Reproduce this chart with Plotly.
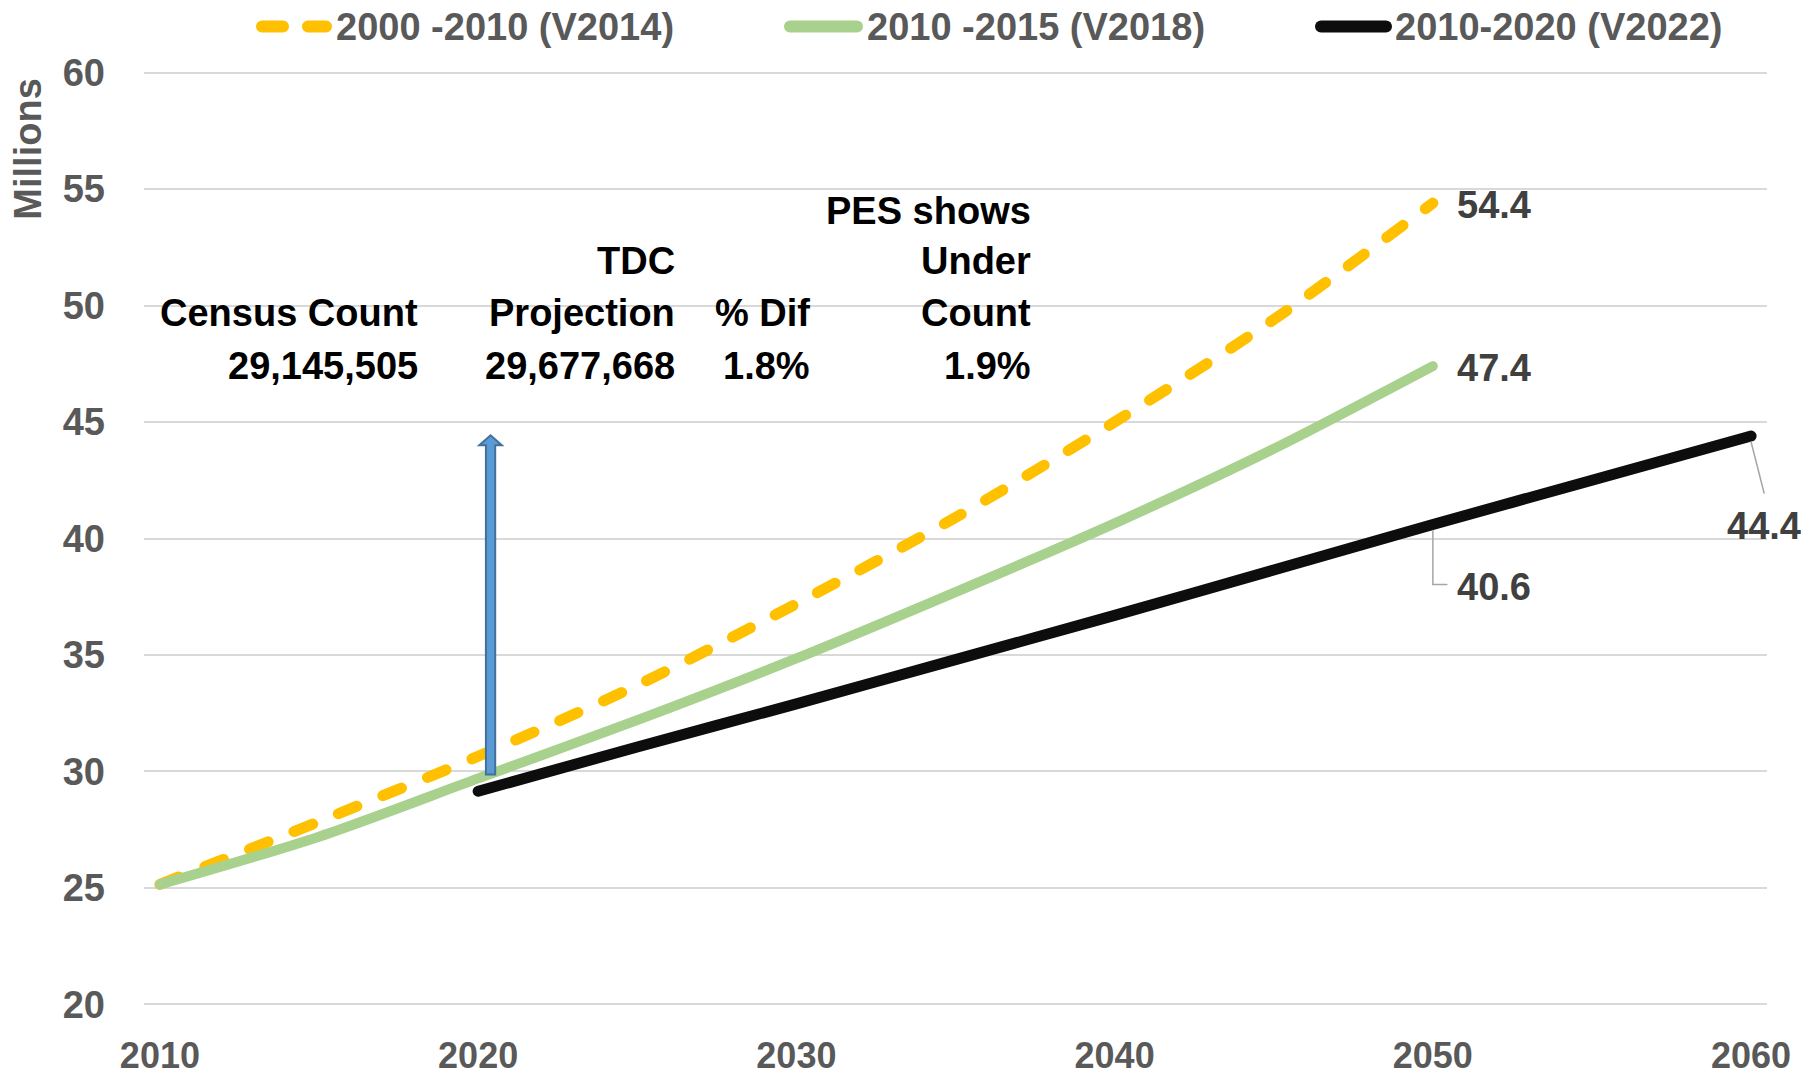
import plotly.graph_objects as go

# ---------------- data ----------------
years_v2014 = [2010, 2015, 2020, 2025, 2030, 2035, 2040, 2045, 2050]
pop_v2014 = [25.15, 27.85, 30.65, 33.7, 37.2, 40.9, 45.0, 49.4, 54.4]

years_v2018 = [2010, 2015, 2020, 2025, 2030, 2035, 2040, 2045, 2050]
pop_v2018 = [25.15, 27.2, 29.7, 32.2, 34.85, 37.7, 40.65, 43.85, 47.4]

years_v2022 = [2020, 2025, 2030, 2035, 2040, 2045, 2050, 2055, 2060]
pop_v2022 = [29.15, 31.05, 32.9, 34.8, 36.7, 38.65, 40.6, 42.5, 44.4]

series_names = ["2000 -2010 (V2014)", "2010 -2015 (V2018)", "2010-2020 (V2022)"]
series_colors = ["#FFC000", "#A9D18E", "#0D0D0D"]

x_ticks = [2010, 2020, 2030, 2040, 2050, 2060]
y_ticks = [20, 25, 30, 35, 40, 45, 50, 55, 60]

# table annotation (columns: lines of text, right aligned)
table_columns = [
    ["", "", "Census Count", "29,145,505"],
    ["", "TDC", "Projection", "29,677,668"],
    ["", "", "% Dif", "1.8%"],
    ["PES shows", "Under", "Count", "1.9%"],
]
table_col_right = [420, 677, 812, 1033]   # pixel x of right edges (figure coords)
table_row_y = [211, 261, 313, 366]        # pixel y of row centres (figure coords)

# TDC arrow (year, from value, to value)
arrow_year = 2020.39
arrow_from = 29.87
arrow_to = 44.43

FONT = "Liberation Sans, Arial, sans-serif"
FS = 38
W, H = 1809, 1079
Y_RANGE = [19.8, 60.2]
M_L, M_R, M_T, M_B = 144, 42, 68.4, 70.4
PW, PH = W - M_L - M_R, H - M_T - M_B


def px_to_paper_x(px):
    return (px - M_L) / PW


def px_to_paper_y(py):
    return (H - M_B - py) / PH


fig = go.Figure()

fig.add_trace(go.Scatter(x=years_v2014, y=pop_v2014, name=series_names[0], mode="lines",
                         line=dict(color=series_colors[0], width=11, dash="20px,28px",
                                   shape="spline", smoothing=0.8),
                         showlegend=False))
fig.add_trace(go.Scatter(x=years_v2018, y=pop_v2018, name=series_names[1], mode="lines",
                         line=dict(color=series_colors[1], width=10, shape="spline", smoothing=0.8),
                         showlegend=False))
fig.add_trace(go.Scatter(x=years_v2022, y=pop_v2022, name=series_names[2], mode="lines",
                         line=dict(color=series_colors[2], width=11, shape="spline", smoothing=0.8),
                         showlegend=False))

# ---------------- arrow ----------------
shaft_hw = 0.146
head_hw = 0.355
head_len = 0.43
ax0 = arrow_year
arrow_path = (f"M{ax0-shaft_hw},{arrow_from} L{ax0-shaft_hw},{arrow_to-head_len} "
              f"L{ax0-head_hw},{arrow_to-head_len} L{ax0},{arrow_to} L{ax0+head_hw},{arrow_to-head_len} "
              f"L{ax0+shaft_hw},{arrow_to-head_len} L{ax0+shaft_hw},{arrow_from} Z")

annotations = []
shapes = []
shapes.append(dict(type="path", path=arrow_path, xref="x", yref="y",
                   fillcolor="#5B9BD5", line=dict(color="#41719C", width=2), layer="above"))

# ---------------- data labels ----------------
lab_font = dict(family=FONT, size=FS, color="#404040", weight="bold")
annotations.append(dict(x=years_v2014[-1], y=pop_v2014[-1], text=f"{pop_v2014[-1]:.1f}",
                        showarrow=False, xanchor="left", yanchor="middle", xshift=22, yshift=-2, font=lab_font))
annotations.append(dict(x=years_v2018[-1], y=pop_v2018[-1], text=f"{pop_v2018[-1]:.1f}",
                        showarrow=False, xanchor="left", yanchor="middle", xshift=22, yshift=-2, font=lab_font))
i2050 = years_v2022.index(2050)
annotations.append(dict(x=years_v2022[i2050], y=pop_v2022[i2050], text=f"{pop_v2022[i2050]:.1f}",
                        showarrow=False, xanchor="left", yanchor="middle", xshift=22, yshift=-62, font=lab_font))
annotations.append(dict(x=years_v2022[-1], y=pop_v2022[-1], text=f"{pop_v2022[-1]:.1f}",
                        showarrow=False, xanchor="center", yanchor="middle", xshift=13, yshift=-90, font=lab_font))
# leader lines
shapes.append(dict(type="path", xref="x", yref="y", xsizemode="pixel", ysizemode="pixel",
                   xanchor=years_v2022[i2050], yanchor=pop_v2022[i2050],
                   path="M0,-6 L0,-60 L14,-60", line=dict(color="#A6A6A6", width=1.5)))
shapes.append(dict(type="line", xref="x", yref="y", xsizemode="pixel", ysizemode="pixel",
                   xanchor=years_v2022[-1], yanchor=pop_v2022[-1],
                   x0=0, y0=-6, x1=13, y1=-57, line=dict(color="#A6A6A6", width=1.5)))

# ---------------- table text ----------------
tab_font = dict(family=FONT, size=FS, color="#000000", weight="bold")
for col, xr in zip(table_columns, table_col_right):
    for txt, yr in zip(col, table_row_y):
        if txt:
            annotations.append(dict(x=px_to_paper_x(xr), y=px_to_paper_y(yr), xref="paper", yref="paper",
                                    text=txt, showarrow=False,
                                    xanchor="right", yanchor="middle", font=tab_font))

# ---------------- y title ----------------
annotations.append(dict(x=px_to_paper_x(28), y=px_to_paper_y(150), xref="paper", yref="paper",
                        text="Millions", textangle=-90,
                        showarrow=False, xanchor="center", yanchor="middle",
                        font=dict(family=FONT, size=FS, color="#595959", weight="bold")))

# ---------------- custom legend ----------------
leg_py = 27
leg_items = [(256, 332, 334), (784, 863, 865), (1315, 1392, 1393)]   # symbol start/end, text start (px)
for (x0, x1, xt), name, color, dash in zip(leg_items, series_names, series_colors,
                                              ["21px,25px", "solid", "solid"]):
    shapes.append(dict(type="line", xref="paper", yref="paper",
                       x0=px_to_paper_x(x0 + 6), x1=px_to_paper_x(x1 - 6),
                       y0=px_to_paper_y(leg_py), y1=px_to_paper_y(leg_py),
                       line=dict(color=color, width=12, dash=dash)))
    annotations.append(dict(x=px_to_paper_x(xt), y=px_to_paper_y(leg_py), xref="paper", yref="paper",
                            text=name, showarrow=False,
                            xanchor="left", yanchor="middle",
                            font=dict(family=FONT, size=FS, color="#595959", weight="bold")))

fig.update_layout(
    width=W, height=H,
    margin=dict(l=M_L, r=M_R, t=M_T, b=M_B, autoexpand=False),
    paper_bgcolor="white", plot_bgcolor="white",
    showlegend=False,
    annotations=annotations,
    shapes=shapes,
    font=dict(family=FONT, size=FS, color="#595959"),
    xaxis=dict(range=[2009.5, 2060.5], tickvals=x_ticks, ticktext=[str(t) for t in x_ticks],
               showgrid=False, zeroline=False, showline=False, ticks="", automargin=False,
               ticklabelstandoff=22,
               tickfont=dict(family=FONT, size=36, color="#595959", weight="bold")),
    yaxis=dict(range=Y_RANGE, tickvals=y_ticks, showgrid=True, gridcolor="#D9D9D9", gridwidth=2,
               zeroline=False, showline=False, ticks="", ticklabelstandoff=38, automargin=False,
               tickfont=dict(family=FONT, size=FS, color="#595959", weight="bold")),
)

round_caps = (
    "document.body.style.margin='0';"
    "document.querySelectorAll('path.js-line').forEach(function(p){p.style.strokeLinecap='round';});"
    "document.querySelectorAll('.shapelayer path').forEach(function(p){p.style.strokeLinecap='round';});"
)
fig.write_html("out.html", config={"displayModeBar": False}, post_script=round_caps)
